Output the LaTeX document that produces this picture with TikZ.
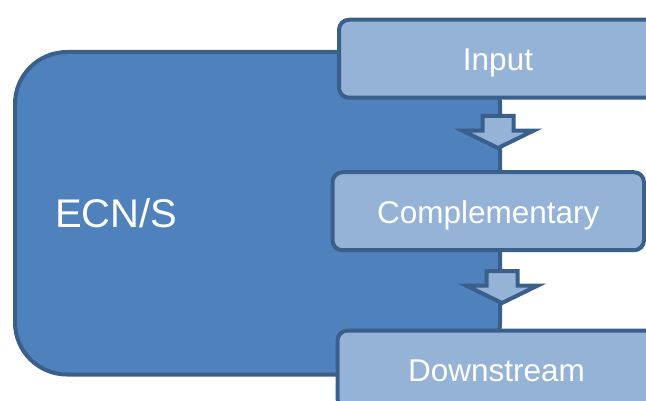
\documentclass[tikz,border=0pt]{standalone}
\usepackage{fontspec}
\setmainfont{Liberation Sans}
\usetikzlibrary{shapes.arrows}

\definecolor{darkfill}{HTML}{4F81BD}
\definecolor{lightfill}{HTML}{95B3D7}
\definecolor{edgeblue}{HTML}{3A5F8B}

\tikzset{
  mainbox/.style={draw=edgeblue, line width=4pt, fill=darkfill, rounded corners=52pt,
    minimum width=485pt, minimum height=322.5pt, inner xsep=40pt, text width=405pt,
    align=left, text=white, font=\fontsize{40}{46}\selectfont},
  stagebox/.style={draw=edgeblue, line width=4pt, fill=lightfill, rounded corners=10pt,
    minimum width=313pt, minimum height=78pt, inner sep=0pt, text=white,
    text height=24pt, text depth=0pt, font=\fontsize{31.5}{36}\selectfont},
  downarrow/.style={single arrow, draw=edgeblue, line width=4pt, fill=lightfill,
    rotate=-90, inner xsep=2pt, inner ysep=13.5pt, minimum height=32pt,
    single arrow head extend=20pt, single arrow tip angle=128}
}

\begin{document}
\begin{tikzpicture}[x=1pt, y=-1pt]
    \clip (0,0) rectangle (646,401);

    \node (ecn) [mainbox] at (257.5,213.25) {ECN/S};

    \node (input) [stagebox, minimum width=318pt] at (498,58.75) {Input};
    \node (compl) [stagebox, minimum width=311.5pt] at (488.25,211.25) {Complementary};
    \node (down) [stagebox, minimum width=318pt] at (496.5,369.5) {Downstream};

    \node (arrowa) [downarrow, anchor=tail] at (498,114) {};
    \node (arrowb) [downarrow, anchor=tail] at (502,269) {};
\end{tikzpicture}
\end{document}
